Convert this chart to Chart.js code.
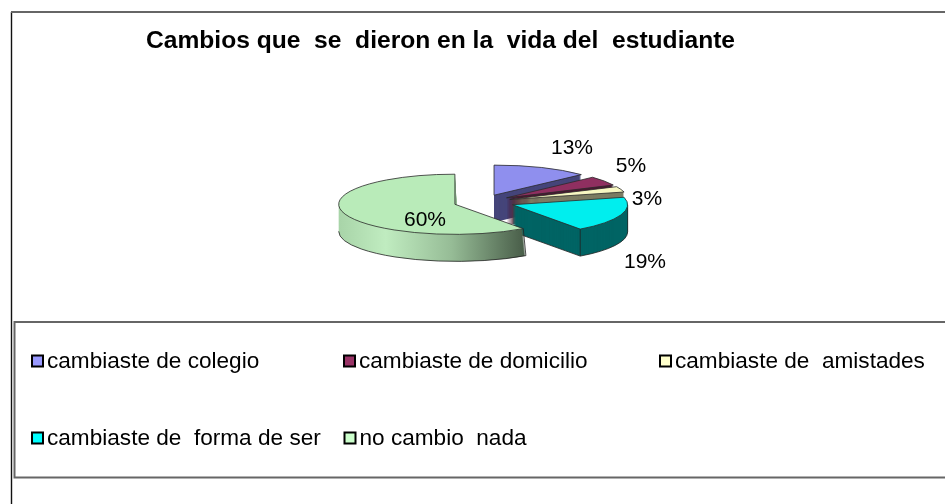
<!DOCTYPE html>
<html><head><meta charset="utf-8">
<style>html,body{margin:0;padding:0;background:#fff}canvas{display:block}</style>
<script src="https://cdn.jsdelivr.net/npm/chart.js@4"></script></head>
<body><div style="width:945px;height:504px"><canvas id="c" width="945" height="504"></canvas></div>
<script>
const titleText = 'Cambios que  se  dieron en la  vida del  estudiante';
const categories = ['cambiaste de colegio','cambiaste de domicilio','cambiaste de  amistades','cambiaste de  forma de ser','no cambio  nada'];
const percents = [13,5,3,19,60];
const topColors = ['#8f8fee','#8f2f60','#f7f7c2','#00eeee','#b9ebb9'];
const swatchColors = ['#9999ff','#993366','#ffffcc','#00ffff','#ccffcc'];
const wallColors = ['#45457a','#4a1832','#7c7c62','#006464','#b4e4b4'];

const PIE = {cx:482.5, cy:202, radius:118, squash:0.255, depth:27};
const explodeBy = [29,29,29,32,29];
const widthScale = [1.015,1,1,0.975,0.985];
const wallFlare = [0,0,0,0,0.0144];
const FONT = '"Liberation Sans", Arial, sans-serif';
const labelSpots = [[572,148],[631,166],[647,199],[645,262],[425,220]];
const legendSpots = [[32,361.5],[344,361.5],[660,361.5],[32,438.5],[344.5,438.5]];

const sliceGeom = (el,i)=>{
  const mid=(el.startAngle+el.endAngle)/2, s=PIE.squash;
  return {ox:Math.cos(mid)*explodeBy[i], oy:Math.sin(mid)*explodeBy[i]*s, Rx:el.outerRadius*widthScale[i], Ry:el.outerRadius*s};
};
function slicePath(ctx, el, g, depth, flare){
  const ax=PIE.cx+g.ox, ay=PIE.cy+g.oy+depth;
  const left=ax-g.Rx, k=1+flare*depth/PIE.depth;
  ctx.beginPath();
  ctx.moveTo(left+(ax-left)*k,ay);
  ctx.ellipse(left+(ax-left)*k,ay,g.Rx*k,g.Ry,0,el.startAngle,el.endAngle);
  ctx.closePath();
}
const pie3d = {
  id:'pie3d',
  beforeDatasetDraw(chart,args){
    const ctx=chart.ctx, meta=args.meta, s=PIE.squash;
    meta.data.forEach((el,i)=>{
      const g=sliceGeom(el,i), flare=wallFlare[i];
      ctx.save();
      let wall=wallColors[i];
      if(i===4){
        const l=PIE.cx+g.ox-g.Rx, r=l+188;
        const lg=ctx.createLinearGradient(l,0,r,0);
        lg.addColorStop(0,'#a8d4a8');lg.addColorStop(.25,'#c0ecc0');lg.addColorStop(.6,'#96bc96');lg.addColorStop(1,'#465a46');
        wall=lg;
      }
      ctx.fillStyle=wall;
      for(let d=PIE.depth;d>=1;d--){ slicePath(ctx,el,g,d,flare); ctx.fill(); }
      // rim of the wall
      ctx.strokeStyle='#222';ctx.lineWidth=0.8;
      const a0=Math.max(el.startAngle,0), a1=Math.min(el.endAngle,Math.PI);
      const ax=PIE.cx+g.ox, ay=PIE.cy+g.oy, R=g.Rx, k=1+flare, left=ax-R;
      const bx=left+(ax-left)*k;
      if(a1>a0){
        ctx.beginPath();
        ctx.ellipse(bx,ay+PIE.depth,R*k,g.Ry,0,a0,a1);
        ctx.stroke();
        const t=el.startAngle>0?el.startAngle:0;
        const px=ax+R*Math.cos(t),py=ay+g.Ry*Math.sin(t);
        const qx=bx+R*k*Math.cos(t);
        ctx.beginPath();ctx.moveTo(px,py);ctx.lineTo(qx,py+PIE.depth);ctx.stroke();
      }
      if(i===3){
        const px=ax+R*Math.cos(el.endAngle),py=ay+g.Ry*Math.sin(el.endAngle);
        ctx.beginPath();ctx.moveTo(px,py);ctx.lineTo(px,py+PIE.depth);ctx.stroke();
        ctx.beginPath();ctx.moveTo(ax,ay+PIE.depth);ctx.lineTo(px,py+PIE.depth);ctx.stroke();
      }
      // top face, drawn by the library's own arc element
      ctx.save();
      ctx.translate(PIE.cx+g.ox,PIE.cy+g.oy);
      ctx.scale(widthScale[i],s);
      ctx.translate(-el.x,-el.y);
      el.draw(ctx);
      ctx.restore();
      slicePath(ctx,el,g,0,0);
      ctx.strokeStyle='#2a2a2a';ctx.lineWidth=0.8;ctx.stroke();
      ctx.restore();
    });
    return false;
  },
  afterDraw(chart){
    const ctx=chart.ctx;
    ctx.save();
    // frame
    ctx.strokeStyle='#111';ctx.lineWidth=1.4;
    ctx.beginPath();ctx.moveTo(11.5,504);ctx.lineTo(11.5,12);ctx.stroke();
    ctx.strokeStyle='#666';ctx.lineWidth=2;
    ctx.beginPath();ctx.moveTo(11,12);ctx.lineTo(945,12);ctx.stroke();
    // legend box
    ctx.strokeStyle='#666';ctx.lineWidth=2;
    ctx.beginPath();ctx.moveTo(945,322);ctx.lineTo(14.5,322);ctx.lineTo(14.5,477.5);ctx.lineTo(945,477.5);ctx.stroke();
    // title
    ctx.fillStyle='#000';ctx.textBaseline='middle';ctx.textAlign='left';
    ctx.font='bold 24.6px '+FONT;
    ctx.fillText(titleText,146,41);
    // value labels
    ctx.font='21px '+FONT;ctx.textAlign='center';
    percents.forEach((v,i)=>ctx.fillText(v+'%',labelSpots[i][0],labelSpots[i][1]));
    // legend
    ctx.textAlign='left';ctx.font='22.6px '+FONT;
    categories.forEach((t,i)=>{
      const [x,y]=legendSpots[i];
      ctx.fillStyle=swatchColors[i];ctx.fillRect(x,Math.round(y)-6.5,11,11);
      ctx.strokeStyle='#000';ctx.lineWidth=2;ctx.strokeRect(x,Math.round(y)-6.5,11,11);
      ctx.fillStyle='#000';ctx.fillText(t,x+15,y);
    });
    ctx.restore();
  }
};
new Chart(document.getElementById('c'),{
  type:'pie',
  data:{labels:categories,datasets:[{data:percents,backgroundColor:topColors,borderWidth:0,radius:PIE.radius}]},
  options:{responsive:false,animation:false,plugins:{legend:{display:false},title:{display:false},tooltip:{enabled:false}}},
  plugins:[pie3d]
});
</script></body></html>
